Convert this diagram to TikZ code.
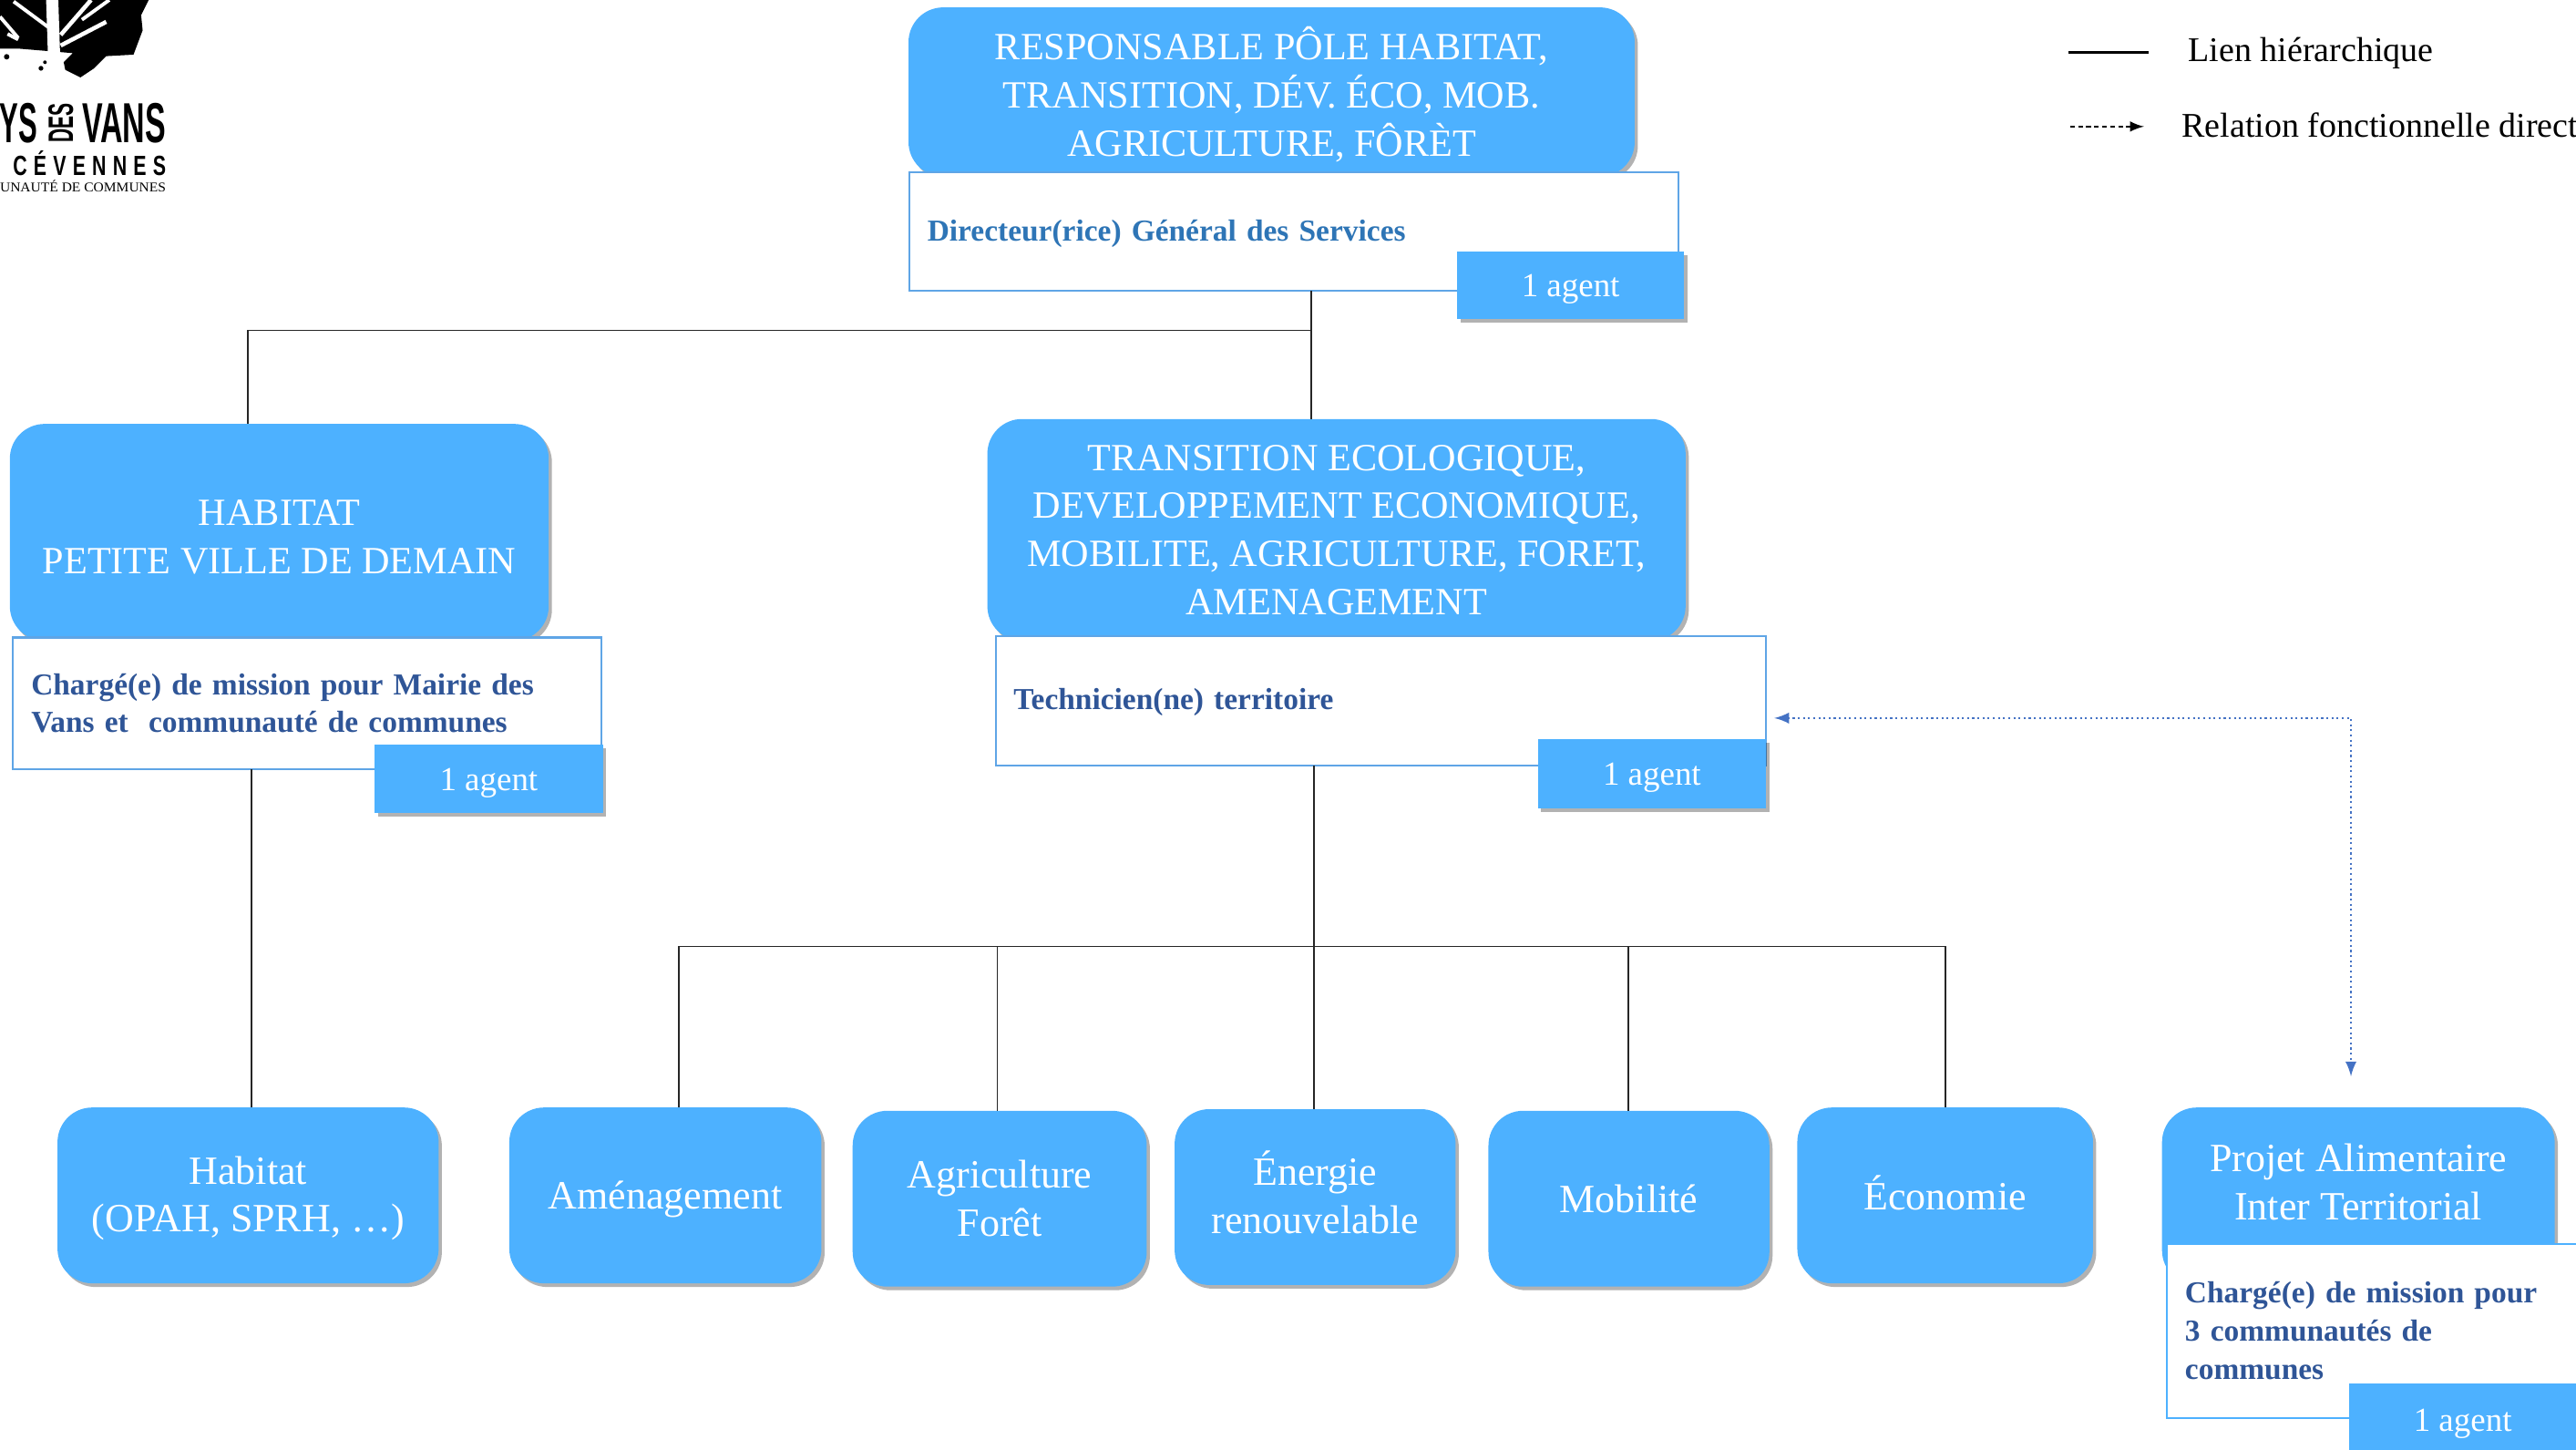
\documentclass[tikz,border=0pt]{standalone}
\usepackage{fontspec}
\setmainfont{Liberation Serif}
\newfontfamily\logofont{Liberation Sans}
\usetikzlibrary{arrows,shadows}
\definecolor{boxblue}{HTML}{4DB1FF}
\definecolor{edgeblue}{HTML}{5FA5E6}
\definecolor{titleblue}{HTML}{2E75B6}
\definecolor{nameblue}{HTML}{2F5597}
\definecolor{linkblue}{HTML}{4472C4}
\newcommand{\un}{0.018cm}
\newcommand{\padtop}[1]{\rule{0pt}{#1}}
\newcommand{\padbot}[1]{\rule[-#1]{0pt}{0pt}}
\newcommand{\tightwords}{\spaceskip=.2em\relax}
\tikzset{
	shade/.style={drop shadow={shadow xshift=.035cm,shadow yshift=-.04cm,fill=black,opacity=.3}},
	pole/.style={fill=boxblue,text=white,rounded corners=.38cm,align=center,inner sep=0,outer sep=0,shade,font=\fontsize{12.5}{15}\selectfont},
	polecaps/.style={pole,font=\fontsize{12}{15}\selectfont},
	post/.style={draw=edgeblue,fill=white,line width=.6pt,align=left,inner sep=0,outer sep=0,font=\fontsize{9.5}{11.9}\selectfont\bfseries\tightwords,text=nameblue},
	agent/.style={fill=boxblue,text=white,inner sep=0,outer sep=0,shade,text height=7.1pt,text depth=0pt,font=\fontsize{10.5}{12}\selectfont},
	legend/.style={inner sep=0,outer sep=0,anchor=west,font=\fontsize{10.8}{13}\selectfont},
	link/.style={line width=.5pt,draw=black!85},
	logotext/.style={inner sep=0,outer sep=0,text=black}
}
\begin{document}
\begin{tikzpicture}[x=\un,y=-\un]
	\clip (0,0) rectangle (1568,882);

	% logo
	\begin{scope}[x=0.00333cm,y=-0.00333cm]
		\fill (0,0) -- (490,0) -- (465,50) -- (470,100) -- (440,180) -- (350,185) -- (310,225) -- (265,255) -- (215,230) -- (210,205) -- (240,175) -- (60,160) -- (0,160) -- cycle;
		\draw[white,line width=3.8pt] (172,0) -- (180,240);
		\draw[white,line width=1.1pt] (45,5) -- (160,90);
		\draw[white,line width=1.3pt] (300,0) -- (200,115);
		\draw[white,line width=1.1pt] (360,0) -- (270,65);
		\draw[white,line width=1.3pt] (350,72) -- (200,150);
		\draw[white,line width=1.1pt] (0,55) -- (60,125);
		\draw[white,line width=1.1pt] (25,112) -- (60,130);
		\fill (22,187) circle (9);
		\fill (135,225) circle (8);
		\fill (148,205) circle (6);
	\end{scope}
	\node[logotext,anchor=north west] (logoYs) at (0,63) {\resizebox{.414cm}{.432cm}{\logofont\bfseries YS}};
	\node[logotext,rotate=90] (logoDes) at (37,75) {\resizebox{.432cm}{.27cm}{\logofont\bfseries DES}};
	\node[logotext,anchor=north west] (logoVans) at (50,63) {\resizebox{.918cm}{.432cm}{\logofont\bfseries VANS}};
	\node[logotext,anchor=north west] (logoCev) at (8,92) {\resizebox{1.674cm}{.27cm}{\logofont\bfseries C\,\,É\,\,V\,\,E\,\,N\,\,N\,\,E\,\,S}};
	\node[logotext,anchor=north east] (logoCom) at (101,110) {\resizebox{1.818cm}{.126cm}{UNAUTÉ DE COMMUNES}};

	% top
	\node[polecaps,minimum width=442*\un,minimum height=103*\un] (resp) at (774,56) {\padtop{11.8pt}RESPONSABLE PÔLE HABITAT,\\TRANSITION, DÉV. ÉCO, MOB.\\AGRICULTURE, FÔRÈT};
	\node[post,text=titleblue,text depth=1pt,minimum height=72*\un,text width=446*\un,inner xsep=11*\un] (dgs) at (787.5,141) {Directeur(rice) Général des Services};
	\node[agent,minimum width=138*\un,minimum height=41*\un] (dgsAgent) at (956,173.5) {1 agent};

	% habitat
	\node[polecaps,minimum width=328*\un,minimum height=132*\un] (hab) at (170,324) {\padtop{10.9pt}HABITAT\\PETITE VILLE DE DEMAIN};
	\node[post,minimum height=80*\un,text width=336*\un,inner xsep=11*\un] (habPost) at (187,428) {Chargé(e) de mission pour Mairie des\\Vans et\ \ communauté de communes};
	\node[agent,minimum width=139*\un,minimum height=42*\un] (habAgent) at (297.5,474) {1 agent};

	% transition
	\node[polecaps,minimum width=425*\un,minimum height=135*\un] (trans) at (813.5,322.5) {TRANSITION ECOLOGIQUE,\\DEVELOPPEMENT ECONOMIQUE,\\MOBILITE, AGRICULTURE, FORET,\\AMENAGEMENT};
	\node[post,text depth=1pt,minimum height=79*\un,text width=447*\un,inner xsep=11*\un] (tech) at (840.5,426.5) {Technicien(ne) territoire};
	\node[agent,minimum width=139*\un,minimum height=42*\un] (techAgent) at (1005.5,471) {1 agent};

	% bottom row
	\node[pole,minimum width=232*\un,minimum height=107*\un] (opah) at (151,727.5) {\padtop{10.5pt}Habitat\\(OPAH, SPRH, …)};
	\node[pole,text depth=0pt,minimum width=190*\un,minimum height=107*\un] (amen) at (405,727.5) {Aménagement};
	\node[pole,minimum width=179*\un,minimum height=107*\un] (agri) at (608.5,729.5) {Agriculture\\Forêt};
	\node[pole,minimum width=171*\un,minimum height=107*\un] (ener) at (800.5,728.5) {Énergie\\renouvelable\padbot{3pt}};
	\node[pole,minimum width=171*\un,minimum height=107*\un] (mobi) at (991.5,729.5) {Mobilité};
	\node[pole,text depth=2pt,minimum width=180*\un,minimum height=107*\un] (eco) at (1184,727.5) {Économie};

	% alimentaire
	\node[pole,minimum width=239*\un,minimum height=108*\un] (pat) at (1435.5,728) {Projet Alimentaire\\Inter Territorial\padbot{9pt}};
	\node[post,draw=boxblue,minimum height=106*\un,text width=257*\un,inner xsep=11*\un] (patPost) at (1458.5,810) {Chargé(e) de mission pour\\3 communautés de\\communes};
	\node[agent,minimum width=138*\un,minimum height=44*\un] (patAgent) at (1499,864) {1 agent};

	% junctions
	\coordinate (jTop) at (798,201);
	\coordinate (jHab) at (151,201);
	\coordinate (jTech) at (800,576);
	\coordinate (jAmen) at (413,576);
	\coordinate (jAgri) at (607,576);
	\coordinate (jMobi) at (991,576);
	\coordinate (jEco) at (1184,576);
	\coordinate (jHabPost) at (153,468);
	\coordinate (jOpah) at (153,674);
	\coordinate (jLink) at (1431,437);
	\coordinate (jLinkEnd) at (1431,655);
	\coordinate (jLinkStart) at (1080,437);

	\draw [link] (dgs.south -| jTop) -- (jTop);
	\draw [link] (jTop) -- (trans.north -| jTop);
	\draw [link] (jTop) -- (jHab) -- (hab.north -| jHab);
	\draw [link] (jHabPost) -- (jOpah);
	\draw [link] (tech.south -| jTech) -- (jTech);
	\draw [link] (jTech) -- (ener.north -| jTech);
	\draw [link] (amen.north -| jAmen) -- (jAmen) -- (jEco) -- (eco.north -| jEco);
	\draw [link] (jAgri) -- (agri.north -| jAgri);
	\draw [link] (jMobi) -- (mobi.north -| jMobi);
	\draw [arrows={latex-latex},linkblue,line width=.6pt,densely dotted] (jLinkStart) -- (jLink) -- (jLinkEnd);

	% legend
	\coordinate (lgA) at (1259,32);
	\coordinate (lgB) at (1308,32);
	\coordinate (lgC) at (1260,77);
	\coordinate (lgD) at (1305,77);
	\draw [line width=.8pt] (lgA) -- (lgB);
	\draw [arrows={-latex},line width=.5pt,dash pattern=on 1.5pt off 1pt] (lgC) -- (lgD);
	\node[legend] (lgHier) at (1332,32.5) {Lien hiérarchique};
	\node[legend] (lgFonc) at (1328,76) {Relation fonctionnelle direct};
\end{tikzpicture}
\end{document}
